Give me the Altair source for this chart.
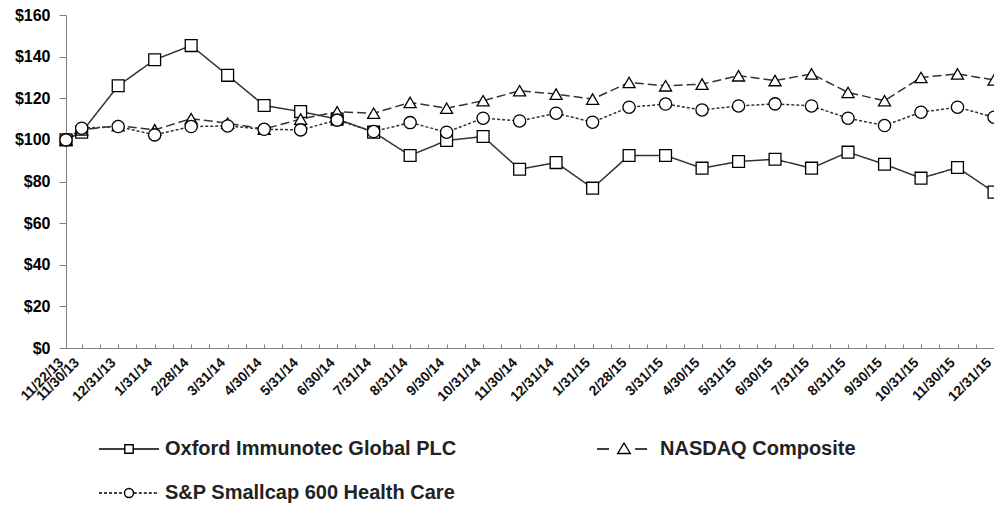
import altair as alt
import pandas as pd
import numpy as np

# ---- data ----
dates = ["11/22/13", "11/30/13", "12/31/13", "1/31/14", "2/28/14", "3/31/14", "4/30/14",
         "5/31/14", "6/30/14", "7/31/14", "8/31/14", "9/30/14", "10/31/14", "11/30/14",
         "12/31/14", "1/31/15", "2/28/15", "3/31/15", "4/30/15", "5/31/15", "6/30/15",
         "7/31/15", "8/31/15", "9/30/15", "10/31/15", "11/30/15", "12/31/15"]
# category position along the axis (first point sits a fraction before month-end 11/30/13)
xpos = [-0.43] + list(range(0, 26))

series_names = ["Oxford Immunotec Global PLC", "NASDAQ Composite", "S&P Smallcap 600 Health Care"]

oxford = [100, 103.7, 126, 138.5, 145.3, 131, 116.5, 113.6, 110, 103.7, 92.5, 99.7, 101.6,
          85.9, 89.1, 76.8, 92.5, 92.5, 86.4, 89.6, 90.7, 86.4, 94.1, 88.3, 81.6, 86.7, 74.9]
nasdaq = [100, 104.8, 106.8, 104.8, 110.2, 108, 105.2, 110, 113.5, 112.8, 118, 115.2, 118.8,
          123.6, 122, 119.6, 127.6, 126, 126.8, 130.8, 128.5, 131.7, 122.8, 118.8, 130, 131.7, 128.8]
sp600 = [100, 105.6, 106.4, 102.4, 106.4, 106.7, 105.1, 104.8, 109.5, 104, 108.3, 103.7, 110.4,
         109.1, 112.8, 108.5, 115.7, 117.2, 114.4, 116.3, 117.3, 116.3, 110.4, 106.9, 113.3, 115.7, 110.9]

y_ticks = [0, 20, 40, 60, 80, 100, 120, 140, 160]

rows = []
for name, vals in zip(series_names, [oxford, nasdaq, sp600]):
    for d, p, v in zip(dates, xpos, vals):
        rows.append({"series": name, "date": d, "pos": p, "value": v})
df = pd.DataFrame(rows)

# ---- styling ----
FONT = "Liberation Sans"
GRAY = "#808080"
W, H = 928, 333

label_map = "{" + ",".join("'%s':'%s'" % (str(p), d) for p, d in zip(xpos, dates)) + "}"
label_expr = label_map + "[toString(datum.value)]"

xscale = alt.Scale(domain=[-0.43, 25], nice=False, zero=False)
yscale = alt.Scale(domain=[0, 160], nice=False)

yaxis = alt.Axis(values=y_ticks, labelExpr="'$' + datum.value", title=None, grid=False,
                 domainColor=GRAY, tickColor=GRAY, tickSize=7, labelFont=FONT,
                 labelFontSize=16, labelFontWeight="bold", labelColor="black", labelPadding=9)

x_bottom = alt.Axis(values=xpos, labelExpr=label_expr, title=None, grid=False, ticks=False,
                    domainColor=GRAY, labelAngle=-45, labelAlign="right", labelBaseline="bottom",
                    labelFont=FONT, labelFontSize=14, labelFontWeight="bold", labelColor="#111",
                    labelPadding=17, labelOverlap=False, labelFlush=False, labelBound=False)

tick_vals = [-0.43] + [float(v) for v in np.arange(0, 25.01, 0.5)]
x_top = alt.Axis(orient="top", offset=-H, values=tick_vals, labels=False, domain=False,
                 title=None, grid=False, ticks=True, tickSize=4, tickColor=GRAY)

dash_range = [[1, 0], [9, 4], [3, 2]]
shape_range = ["square", "triangle-up", "circle"]

# custom legend glyphs (line style + marker)
def dashed(x0, x1, d, g):
    parts, x = [], x0
    while x < x1 - 1e-9:
        e = min(x + d, x1)
        parts.append("M%.3f,0H%.3f" % (x, e))
        x = e + g
    return "".join(parts)

leg_ox = "M-1,0H-0.14M0.14,0H1M-0.14,-0.14H0.14V0.14H-0.14Z"
leg_nq = "M-0.9,0H-0.5M0.37,0H0.77M0,-0.2L0.21,0.15H-0.21Z"
leg_sp = (dashed(-1, -0.16, 0.1, 0.067) + dashed(0.16, 1, 0.1, 0.067) +
          "M-0.15,0A0.15,0.15 0 1,0 0.15,0A0.15,0.15 0 1,0 -0.15,0Z")

# legend fills column by column: column 1 = Oxford, S&P ; column 2 = NASDAQ
legend_order = [series_names[0], series_names[2], series_names[1]]
legend_paths = [leg_ox, leg_sp, leg_nq]

base = alt.Chart(df)

lines = base.mark_line(color="#333333", strokeWidth=1.5).encode(
    x=alt.X("pos:Q", scale=xscale, axis=x_bottom),
    y=alt.Y("value:Q", scale=yscale, axis=yaxis),
    strokeDash=alt.StrokeDash("series:N", scale=alt.Scale(domain=series_names, range=dash_range),
                              legend=None),
    detail="series:N",
)

points = base.mark_point(filled=True, fill="white", stroke="black", strokeWidth=1.3, opacity=1).encode(
    x=alt.X("pos:Q", scale=xscale, axis=x_top),
    y=alt.Y("value:Q", scale=yscale, axis=yaxis),
    shape=alt.Shape("series:N", scale=alt.Scale(domain=series_names, range=shape_range), legend=None),
    size=alt.Size("series:N", scale=alt.Scale(domain=series_names, range=[140, 150, 100]), legend=None),
)

legend_layer = base.mark_point(color="black", opacity=0).encode(
    x=alt.X("pos:Q", scale=xscale, axis=None),
    y=alt.Y("value:Q", scale=yscale, axis=yaxis),
    shape=alt.Shape("series:N",
                    scale=alt.Scale(domain=legend_order, range=legend_paths),
                    legend=alt.Legend(title=None, orient="none", legendX=32, legendY=403,
                                      columns=2, columnPadding=136, rowPadding=3,
                                      symbolSize=3600, symbolStrokeWidth=1.4,
                                      symbolStrokeColor="black", symbolFillColor="transparent",
                                      symbolOpacity=1, labelFont=FONT, labelFontSize=20,
                                      labelFontWeight="bold", labelColor="#222", labelOffset=5,
                                      labelLimit=500)),
)

chart = alt.layer(lines, points, legend_layer).resolve_scale(
    shape="independent", size="independent"
).resolve_axis(x="independent").properties(
    width=W, height=H,
    padding={"left": 58, "top": 7, "right": 0, "bottom": 156},
    autosize=alt.AutoSizeParams(type="none"),
).configure_view(stroke=None)

chart.save("out.html", embed_options={"renderer": "svg", "actions": False})
